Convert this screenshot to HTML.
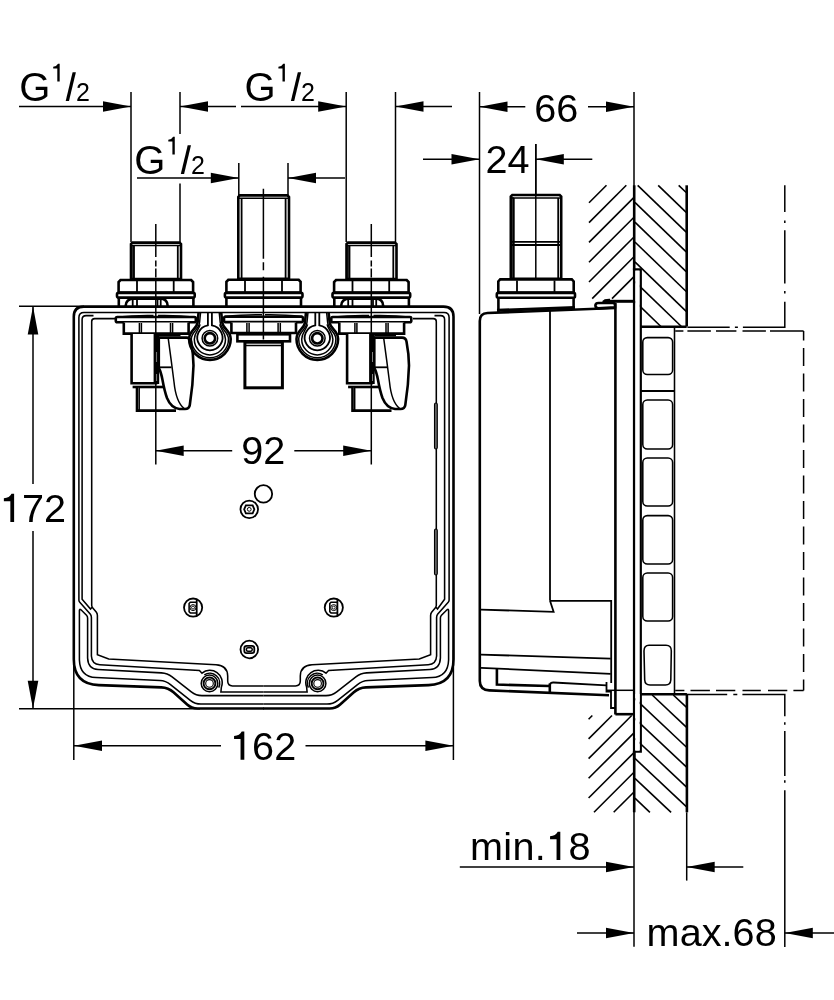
<!DOCTYPE html>
<html><head><meta charset="utf-8"><title>Dimension drawing</title>
<style>
html,body{margin:0;padding:0;background:#fff;}
body{width:834px;height:1000px;overflow:hidden;font-family:"Liberation Sans",sans-serif;}
svg{display:block;will-change:transform;}
.t{stroke:#000;stroke-width:1.5;fill:none;}
.m{stroke:#000;stroke-width:1.8;fill:none;}
.k{stroke:#000;stroke-width:2.6;fill:none;}
.kk{stroke:#000;stroke-width:3;fill:none;}
.w{stroke:#000;stroke-width:1.8;fill:#fff;}
.wk{stroke:#000;stroke-width:2.6;fill:#fff;}
.a{fill:#000;stroke:none;}
.b{stroke:#000;stroke-width:1.55;fill:none;}
.h{stroke:#000;stroke-width:1.6;fill:none;}
text{font-family:"Liberation Sans",sans-serif;fill:#000;}
</style></head><body>
<svg width="834" height="1000" viewBox="0 0 834 1000">
<rect x="0" y="0" width="834" height="1000" fill="#fff"/>
<line class="t" x1="19" y1="106.5" x2="131" y2="106.5" />
<polygon class="a" points="131,106.5 103,101.2 103,111.8"/>
<line class="t" x1="131" y1="92" x2="131" y2="242" />
<line class="t" x1="180" y1="92" x2="180" y2="134" />
<line class="t" x1="180" y1="183.5" x2="180" y2="242" />
<polygon class="a" points="180,106.5 208,101.2 208,111.8"/>
<line class="t" x1="180" y1="106.5" x2="236" y2="106.5" />
<line class="t" x1="241" y1="106.5" x2="346.2" y2="106.5" />
<polygon class="a" points="346.2,106.5 318.2,101.2 318.2,111.8"/>
<line class="t" x1="346.2" y1="92" x2="346.2" y2="242" />
<line class="t" x1="395.5" y1="92" x2="395.5" y2="242" />
<polygon class="a" points="395.5,106.5 423.5,101.2 423.5,111.8"/>
<line class="t" x1="395.5" y1="106.5" x2="452" y2="106.5" />
<line class="t" x1="137" y1="178" x2="238.8" y2="178" />
<polygon class="a" points="238.8,178 210.8,172.7 210.8,183.3"/>
<line class="t" x1="238.8" y1="163" x2="238.8" y2="196" />
<line class="t" x1="288" y1="163" x2="288" y2="196" />
<polygon class="a" points="288,178 316,172.7 316,183.3"/>
<line class="t" x1="288" y1="178" x2="345" y2="178" />
<text x="19.20" y="100.6" font-size="40">G</text>
<path class="a" d="M59.68,81.6 L57.30,81.6 L57.30,68.55 L53.20,68.55 L53.20,66.67 Q56.80,66.42 58.05,63.80 L59.68,63.80 Z"/>
<polygon class="a" points="65.7,101.1 69.0,101.1 75.9,72.19999999999999 72.6,72.19999999999999"/>
<text x="75.90" y="100.6" font-size="25">2</text>
<text x="244.40" y="100.6" font-size="40">G</text>
<path class="a" d="M284.88,81.6 L282.50,81.6 L282.50,68.55 L278.40,68.55 L278.40,66.67 Q282.00,66.42 283.25,63.80 L284.88,63.80 Z"/>
<polygon class="a" points="290.9,101.1 294.2,101.1 301.1,72.19999999999999 297.8,72.19999999999999"/>
<text x="301.10" y="100.6" font-size="25">2</text>
<text x="134.30" y="173.6" font-size="40">G</text>
<path class="a" d="M174.78,154.6 L172.40,154.6 L172.40,141.55 L168.30,141.55 L168.30,139.67 Q171.90,139.42 173.15,136.80 L174.78,136.80 Z"/>
<polygon class="a" points="180.8,174.1 184.1,174.1 191.0,145.2 187.7,145.2"/>
<text x="191.00" y="173.6" font-size="25">2</text>
<line class="t" x1="19" y1="306.3" x2="84" y2="306.3" />
<line class="t" x1="19" y1="708.7" x2="200" y2="708.7" />
<line class="t" x1="33" y1="307" x2="33" y2="484" />
<line class="t" x1="33" y1="531" x2="33" y2="708" />
<polygon class="a" points="33,306.5 27.7,334.5 38.3,334.5"/>
<polygon class="a" points="33,708.7 27.7,680.7 38.3,680.7"/>
<path class="a" d="M14.12,521.9 L10.35,521.9 L10.35,501.23 L3.86,501.23 L3.86,498.26 Q9.56,497.86 11.54,493.70 L14.12,493.70 Z"/>
<text x="21.92" y="521.9" font-size="39.6">7</text>
<text x="43.94" y="521.9" font-size="39.6">2</text>
<line class="t" x1="73.8" y1="650" x2="73.8" y2="760" />
<line class="t" x1="453.4" y1="650" x2="453.4" y2="760" />
<polygon class="a" points="74,745.7 102,740.4000000000001 102,751.0"/>
<line class="t" x1="74" y1="745.7" x2="221" y2="745.7" />
<line class="t" x1="305.5" y1="745.7" x2="453" y2="745.7" />
<polygon class="a" points="453.4,745.7 425.4,740.4000000000001 425.4,751.0"/>
<path class="a" d="M244.32,759.7 L240.55,759.7 L240.55,739.03 L234.06,739.03 L234.06,736.06 Q239.76,735.66 241.74,731.50 L244.32,731.50 Z"/>
<text x="252.12" y="759.7" font-size="39.6">6</text>
<text x="274.14" y="759.7" font-size="39.6">2</text>
<polygon class="a" points="155.7,450.8 183.7,445.5 183.7,456.1"/>
<line class="t" x1="155.7" y1="450.8" x2="232.2" y2="450.8" />
<line class="t" x1="294.3" y1="450.8" x2="371" y2="450.8" />
<polygon class="a" points="371.2,450.8 343.2,445.5 343.2,456.1"/>
<text x="241.30" y="464.1" font-size="39.6">9</text>
<text x="263.32" y="464.1" font-size="39.6">2</text>
<g>
<path class="k" d="M264.00,306.60 L83.80,306.60 Q73.80,306.60 73.80,316.60 L73.80,659.20 Q73.80,684.20 98.78,685.10 L161.30,687.35 Q168.30,687.60 173.51,692.27 L187.13,704.49 Q191.60,708.50 197.60,708.50 L264.00,708.50" />
</g>
<g transform="translate(527.3,0) scale(-1,1)">
<path class="k" d="M264.00,306.60 L83.80,306.60 Q73.80,306.60 73.80,316.60 L73.80,659.20 Q73.80,684.20 98.78,685.10 L161.30,687.35 Q168.30,687.60 173.51,692.27 L187.13,704.49 Q191.60,708.50 197.60,708.50 L264.00,708.50" />
</g>
<g>
<path class="b" d="M263.65,312.4 H84 Q78.9,312.4 78.9,317.4 V600.2 Q79,601.5 80,602.6 L90.4,614.2 Q91.4,615.5 91.4,617.5 V656 Q91.8,664.2 99.8,664.8 L199.4,670.4 L202,673.2 A12.3,12.3 0 0 1 221.4,687 L220.9,692 H263.65" />
<path class="b" d="M93.5,315.6 H86.1 Q82.1,315.6 82.1,319.6 V599.2 L90.5,609 L92,607.3" />
<path class="b" d="M115,318.6 H94.7 Q91.7,318.6 91.7,321.6 V605.5 Q91.9,607 93,608.3 L96.2,612 Q97.4,613.5 97.4,615.5 V654.6 L108.7,659 L216,664.8 Q227.5,665.5 227.7,676 V681 Q227.7,685.9 232.5,685.9 H263.65" />
<path class="b" d="M79.4,660 V610.5 Q79.4,608.6 81,609.8 L86.5,615.2 Q87.6,616.4 87.6,618 V658 Q88,669 98,669.5 L98.00,669.50 L161.41,672.88 Q167.40,673.20 172.12,676.90 L191.28,691.90 Q196.00,695.60 202.00,695.60 L263.65,695.60" />
<path class="b" d="M79.4,660 Q80,677 96,677.6 L96.00,677.60 L159.81,680.53 Q165.80,680.80 170.50,684.53 L190.30,700.27 Q195.00,704.00 201.00,704.00 L263.65,704.00" />
</g>
<g transform="translate(528,0) scale(-1,1)">
<path class="b" d="M264.35,312.4 H84 Q78.9,312.4 78.9,317.4 V600.2 Q79,601.5 80,602.6 L90.4,614.2 Q91.4,615.5 91.4,617.5 V656 Q91.8,664.2 99.8,664.8 L199.4,670.4 L202,673.2 A12.3,12.3 0 0 1 221.4,687 L220.9,692 H264.35" />
<path class="b" d="M93.5,315.6 H87.4 Q83.4,315.6 83.4,319.6 V599.2 L90.5,609 L92,607.3" />
<path class="b" d="M115,318.6 H94.7 Q91.7,318.6 91.7,321.6 V605.5 Q91.9,607 93,608.3 L96.2,612 Q97.4,613.5 97.4,615.5 V654.6 L108.7,659 L216,664.8 Q227.5,665.5 227.7,676 V681 Q227.7,685.9 232.5,685.9 H264.35" />
<path class="b" d="M79.4,660 V610.5 Q79.4,608.6 81,609.8 L86.5,615.2 Q87.6,616.4 87.6,618 V658 Q88,669 98,669.5 L98.00,669.50 L161.41,672.88 Q167.40,673.20 172.12,676.90 L191.28,691.90 Q196.00,695.60 202.00,695.60 L264.35,695.60" />
<path class="b" d="M79.4,660 Q80,677 96,677.6 L96.00,677.60 L159.81,680.53 Q165.80,680.80 170.50,684.53 L190.30,700.27 Q195.00,704.00 201.00,704.00 L264.35,704.00" />
</g>
<rect x="434.5" y="403" width="2.8" height="46" rx="1.4" fill="#666" stroke="#000" stroke-width="1.1"/>
<rect x="434.5" y="529" width="2.8" height="46" rx="1.4" fill="#666" stroke="#000" stroke-width="1.1"/>
<g transform="translate(0,0)">
<path class="wk" d="M132.5,242.6 H179.5 L181,244 V279 H131 V244 Z" />
<line class="t" x1="131.5" y1="245.6" x2="180.5" y2="245.6" />
<line class="m" x1="134" y1="245.6" x2="134" y2="279" />
<line class="m" x1="177.8" y1="245.6" x2="177.8" y2="279" />
<rect class="a" x="131" y="245" width="3" height="34" fill-opacity="0.75"/>
<path class="wk" d="M120.5,280 H191.2 L193.1,282 V292.6 H118.6 V282 Z" />
<line class="m" x1="137" y1="281" x2="137" y2="292" />
<line class="m" x1="173.7" y1="281" x2="173.7" y2="292" />
<rect class="wk" x="117" y="292.9" width="77.7" height="4.7" rx="1.5"/>
<line class="k" x1="118.8" y1="297.5" x2="118.8" y2="306" />
<line class="k" x1="193.4" y1="297.5" x2="193.4" y2="306" />
<path class="k" d="M125.6,306 Q126,298.8 134,298.8 H160 Q167.5,298.8 167.7,306" />
<line class="m" x1="132.7" y1="299" x2="132.7" y2="306" />
<line class="m" x1="137" y1="299" x2="137" y2="306" />
<line class="m" x1="157.5" y1="299" x2="157.5" y2="306" />
<line class="m" x1="160.7" y1="299" x2="160.7" y2="306" />
<path class="t" d="M116,317.2 Q135,315.2 153.5,315.6 M158,315.6 Q178,315.2 196,317.2" />
<rect class="wk" x="115.8" y="317" width="80" height="5.3" rx="1.5"/>
<path class="wk" d="M123.8,322.5 V333.6 H188.6 V322.5" />
<line class="t" x1="139.4" y1="323" x2="139.4" y2="333" />
<line class="t" x1="141.4" y1="323" x2="141.4" y2="333" />
<line class="t" x1="170.5" y1="323" x2="170.5" y2="333" />
<line class="t" x1="172.6" y1="323" x2="172.6" y2="333" />
<path class="wk" d="M131.6,334 V383.2 H156 V334" />
<rect class="a" x="153.6" y="334" width="5.6" height="50"/>
<line class="t" x1="156.3" y1="352" x2="156.3" y2="362" stroke="#fff" style="stroke:#fff"/>
<line class="t" x1="156.3" y1="374" x2="156.3" y2="381" stroke="#fff" style="stroke:#fff"/>
<line class="k" x1="132.6" y1="387" x2="164" y2="387" />
<path class="wk" d="M137,387 V410.6 H176" />
<line class="t" x1="139.2" y1="388" x2="139.2" y2="410" />
<path class="wk" d="M158.8,337.6 H186.5 Q190.3,337.6 191,341.5 Q193.4,354 193.5,365.5 Q193,385 189.8,405 Q189.2,409 185,409 H179.5 Q171,408 167,398 Q164.5,391 162.5,380 Q161,372 158.8,368 Z" />
<path class="t" d="M168.3,338.8 Q171.5,362 174,382 Q176,402 184,408.3" />
<line class="m" x1="159.5" y1="367.3" x2="171.5" y2="367.3" />
<line class="t" x1="159" y1="335.6" x2="180.5" y2="335.6" />
<line class="t" x1="155.8" y1="224" x2="155.8" y2="464.5" stroke-dasharray="33 3.5 6 2 9 2 300"/>
</g>
<g transform="translate(215.5,0)">
<path class="wk" d="M132.5,242.6 H179.5 L181,244 V279 H131 V244 Z" />
<line class="t" x1="131.5" y1="245.6" x2="180.5" y2="245.6" />
<line class="m" x1="134" y1="245.6" x2="134" y2="279" />
<line class="m" x1="177.8" y1="245.6" x2="177.8" y2="279" />
<rect class="a" x="131" y="245" width="3" height="34" fill-opacity="0.75"/>
<path class="wk" d="M120.5,280 H191.2 L193.1,282 V292.6 H118.6 V282 Z" />
<line class="m" x1="137" y1="281" x2="137" y2="292" />
<line class="m" x1="173.7" y1="281" x2="173.7" y2="292" />
<rect class="wk" x="117" y="292.9" width="77.7" height="4.7" rx="1.5"/>
<line class="k" x1="118.8" y1="297.5" x2="118.8" y2="306" />
<line class="k" x1="193.4" y1="297.5" x2="193.4" y2="306" />
<path class="k" d="M125.6,306 Q126,298.8 134,298.8 H160 Q167.5,298.8 167.7,306" />
<line class="m" x1="132.7" y1="299" x2="132.7" y2="306" />
<line class="m" x1="137" y1="299" x2="137" y2="306" />
<line class="m" x1="157.5" y1="299" x2="157.5" y2="306" />
<line class="m" x1="160.7" y1="299" x2="160.7" y2="306" />
<path class="t" d="M116,317.2 Q135,315.2 153.5,315.6 M158,315.6 Q178,315.2 196,317.2" />
<rect class="wk" x="115.8" y="317" width="80" height="5.3" rx="1.5"/>
<path class="wk" d="M123.8,322.5 V333.6 H188.6 V322.5" />
<line class="t" x1="139.4" y1="323" x2="139.4" y2="333" />
<line class="t" x1="141.4" y1="323" x2="141.4" y2="333" />
<line class="t" x1="170.5" y1="323" x2="170.5" y2="333" />
<line class="t" x1="172.6" y1="323" x2="172.6" y2="333" />
<path class="wk" d="M131.6,334 V383.2 H156 V334" />
<rect class="a" x="153.6" y="334" width="5.6" height="50"/>
<line class="t" x1="156.3" y1="352" x2="156.3" y2="362" stroke="#fff" style="stroke:#fff"/>
<line class="t" x1="156.3" y1="374" x2="156.3" y2="381" stroke="#fff" style="stroke:#fff"/>
<line class="k" x1="132.6" y1="387" x2="164" y2="387" />
<path class="wk" d="M137,387 V410.6 H176" />
<line class="t" x1="139.2" y1="388" x2="139.2" y2="410" />
<path class="wk" d="M158.8,337.6 H186.5 Q190.3,337.6 191,341.5 Q193.4,354 193.5,365.5 Q193,385 189.8,405 Q189.2,409 185,409 H179.5 Q171,408 167,398 Q164.5,391 162.5,380 Q161,372 158.8,368 Z" />
<path class="t" d="M168.3,338.8 Q171.5,362 174,382 Q176,402 184,408.3" />
<line class="m" x1="159.5" y1="367.3" x2="171.5" y2="367.3" />
<line class="t" x1="159" y1="335.6" x2="180.5" y2="335.6" />
<line class="t" x1="155.8" y1="224" x2="155.8" y2="464.5" stroke-dasharray="33 3.5 6 2 9 2 300"/>
</g>
<path class="wk" d="M239.8,195.4 H287.5 L289,197 V278.8 H238.3 V197 Z" />
<line class="t" x1="239" y1="198.2" x2="288.4" y2="198.2" />
<line class="m" x1="241.6" y1="198.2" x2="241.6" y2="278.8" />
<line class="m" x1="285.6" y1="198.2" x2="285.6" y2="278.8" />
<path class="wk" d="M228.3,279.8 H298.7 L300.6,281.8 V292.5 H226.4 V281.8 Z" />
<line class="m" x1="245" y1="281" x2="245" y2="292" />
<line class="m" x1="282" y1="281" x2="282" y2="292" />
<rect class="wk" x="224.9" y="292.9" width="77.6" height="4.7" rx="1.5"/>
<line class="k" x1="226.4" y1="297.5" x2="226.4" y2="306" />
<line class="k" x1="301" y1="297.5" x2="301" y2="306" />
<path class="t" d="M224.5,316.2 Q245,314.4 262,314.7 M265,314.7 Q283,314.4 302.5,316.2" />
<rect class="wk" x="224" y="316.8" width="79" height="5.3" rx="1.5"/>
<path class="wk" d="M231.4,322.5 V333 H296 V322.5" />
<line class="t" x1="246.9" y1="323" x2="246.9" y2="332.5" />
<line class="t" x1="249.1" y1="323" x2="249.1" y2="332.5" />
<line class="t" x1="278.1" y1="323" x2="278.1" y2="332.5" />
<line class="t" x1="280.3" y1="323" x2="280.3" y2="332.5" />
<rect class="wk" x="237.4" y="334.3" width="52.6" height="7" rx="0"/>
<rect class="kk" x="244.9" y="342.2" width="37.5" height="45.6" rx="0"/>
<line class="t" x1="245" y1="345.6" x2="282.5" y2="345.6" />
<line class="t" x1="263.4" y1="188.7" x2="263.4" y2="339.6" stroke-dasharray="70 3.5 8 6.5 70"/>
<g transform="translate(209.9,338.3)">
<path class="k" d="M-11.3,-26 L-12.3,-16 C-13,-9 -20.8,-8 -20.8,0.8 A20.8,20.8 0 0 0 20.8,0.8 C20.8,-8 13,-9 12.3,-16 L11.3,-26" />
<path class="t" d="M-9.3,-26 L-10.3,-16 C-11,-8 -18.6,-7 -18.6,0.8 A18.6,18.6 0 0 0 18.6,0.8 C18.6,-7 11,-8 10.3,-16 L9.3,-26" />
<path class="t" d="M-9.8,-14 C-11,-8 -15.6,-6 -15.6,1 A15.6,15.6 0 0 0 15.6,1 C15.6,-6 11,-8 9.8,-14" />
<path class="m" d="M-2,-26 V-13 A12.6,12.6 0 1 0 2,-13 V-26" />
<circle class="t" cx="0" cy="0" r="7.8"/>
<circle class="k" cx="0" cy="0" r="5.2"/>
</g>
<g transform="translate(317.3,338.3)">
<path class="k" d="M-11.3,-26 L-12.3,-16 C-13,-9 -20.8,-8 -20.8,0.8 A20.8,20.8 0 0 0 20.8,0.8 C20.8,-8 13,-9 12.3,-16 L11.3,-26" />
<path class="t" d="M-9.3,-26 L-10.3,-16 C-11,-8 -18.6,-7 -18.6,0.8 A18.6,18.6 0 0 0 18.6,0.8 C18.6,-7 11,-8 10.3,-16 L9.3,-26" />
<path class="t" d="M-9.8,-14 C-11,-8 -15.6,-6 -15.6,1 A15.6,15.6 0 0 0 15.6,1 C15.6,-6 11,-8 9.8,-14" />
<path class="m" d="M-2,-26 V-13 A12.6,12.6 0 1 0 2,-13 V-26" />
<circle class="t" cx="0" cy="0" r="7.8"/>
<circle class="k" cx="0" cy="0" r="5.2"/>
</g>
<circle class="m" cx="193.1" cy="607.6" r="9.1"/>
<line class="m" x1="196.7" y1="599.0" x2="196.7" y2="616.2" />
<path class="b" d="M196.7,602.3000000000001 H190.29999999999998 L189.1,603.5 V611.7 L190.29999999999998,612.9 H196.7" />
<circle cx="193.0" cy="607.6" r="3" fill="none" stroke="#000" stroke-width="1"/>
<circle cx="193.0" cy="607.6" r="1.5" fill="none" stroke="#000" stroke-width="0.9"/>
<circle class="m" cx="333.8" cy="607.6" r="9.1"/>
<line class="m" x1="337.40000000000003" y1="599.0" x2="337.40000000000003" y2="616.2" />
<path class="b" d="M337.40000000000003,602.3000000000001 H331.0 L329.8,603.5 V611.7 L331.0,612.9 H337.40000000000003" />
<circle cx="333.7" cy="607.6" r="3" fill="none" stroke="#000" stroke-width="1"/>
<circle cx="333.7" cy="607.6" r="1.5" fill="none" stroke="#000" stroke-width="0.9"/>
<circle class="m" cx="249.3" cy="649.5" r="8.8"/>
<rect class="m" x="244.3" y="645.9" width="10" height="7.2" rx="2.4"/>
<rect class="t" x="246.4" y="647.8" width="5.8" height="3.4" rx="1.5"/>
<circle class="m" cx="249.25" cy="509.35" r="8.8"/>
<path class="m" d="M244.15,509.35 L245.85,505.35 H252.65 L254.35,509.35 L252.65,513.35 H245.85 Z" />
<circle cx="249.25" cy="509.35" r="1.9" fill="none" stroke="#000" stroke-width="1"/>
<circle class="m" cx="263.45" cy="493.9" r="8.7"/>
<circle class="t" cx="209.5" cy="683.4" r="8.3"/>
<circle cx="209.5" cy="683.4" r="5.9" fill="none" stroke="#000" stroke-width="1.9"/>
<circle cx="209.5" cy="683.4" r="3.8" fill="none" stroke="#000" stroke-width="1.1"/>
<path class="t" d="M204.3,674.8 A10,10 0 0 1 218.7,687.6" />
<circle class="t" cx="317.6" cy="683.4" r="8.3"/>
<circle cx="317.6" cy="683.4" r="5.9" fill="none" stroke="#000" stroke-width="1.9"/>
<circle cx="317.6" cy="683.4" r="3.8" fill="none" stroke="#000" stroke-width="1.1"/>
<path class="t" d="M322.8,674.8 A10,10 0 0 0 308.40000000000003,687.6" />
<line class="t" x1="479.5" y1="92" x2="479.5" y2="314" />
<line class="t" x1="634" y1="92" x2="634" y2="270" />
<polygon class="a" points="479.5,106.8 507.5,101.5 507.5,112.1"/>
<line class="t" x1="479.5" y1="106.8" x2="525.3" y2="106.8" />
<line class="t" x1="588" y1="106.8" x2="634" y2="106.8" />
<polygon class="a" points="634,106.8 606,101.5 606,112.1"/>
<text x="534.30" y="121.7" font-size="39.6">6</text>
<text x="556.32" y="121.7" font-size="39.6">6</text>
<line class="t" x1="423" y1="159.2" x2="479.5" y2="159.2" />
<polygon class="a" points="479.5,159.2 451.5,153.89999999999998 451.5,164.5"/>
<text x="485.60" y="172.7" font-size="39.6">2</text>
<text x="507.62" y="172.7" font-size="39.6">4</text>
<line class="t" x1="535.8" y1="144" x2="535.8" y2="280" />
<polygon class="a" points="535.8,159.2 563.8,153.89999999999998 563.8,164.5"/>
<line class="t" x1="535.8" y1="159.2" x2="592.3" y2="159.2" />
<path class="wk" d="M512.3,195 H559.7 L561.2,196.5 V278.8 H510.8 V196.5 Z" />
<line class="t" x1="511.5" y1="198" x2="560.5" y2="198" />
<line class="m" x1="513.8" y1="198" x2="513.8" y2="278.8" />
<line class="m" x1="558.2" y1="198" x2="558.2" y2="278.8" />
<rect class="a" x="510.8" y="197" width="3" height="81.8" fill-opacity="0.8"/>
<line class="m" x1="511" y1="241.8" x2="561" y2="241.8" />
<line class="m" x1="511" y1="245" x2="561" y2="245" />
<path class="wk" d="M500.2,279.4 H571.8 L573.7,281.4 V292.5 H498.3 V281.4 Z" />
<line class="m" x1="517" y1="280.5" x2="517" y2="292" />
<line class="m" x1="554.5" y1="280.5" x2="554.5" y2="292" />
<rect class="wk" x="496.8" y="292.9" width="78.2" height="4.8" rx="1.5"/>
<line class="k" x1="498.4" y1="297.7" x2="498.4" y2="312" />
<line class="k" x1="573.6" y1="297.7" x2="573.6" y2="309" />
<path class="kk" d="M497,310.3 L575,307.4" />
<line class="t" x1="535.8" y1="144" x2="535.8" y2="280" />
<path class="k" d="M615.4,308 L487.5,313 Q479.8,313.3 479.8,321 V681 Q479.8,690 489.3,690.4 L609,695.2" />
<line class="k" x1="615.4" y1="303" x2="615.4" y2="714.4" />
<line class="m" x1="550" y1="311" x2="550" y2="600.8" />
<path class="m" d="M550,600.8 H611.2 V683" />
<path class="m" d="M550,600.8 L553.6,611.8 L481,609.6" />
<line class="m" x1="481" y1="654.6" x2="610.7" y2="658.7" />
<path class="m" d="M481,667.8 L610.7,673.8" />
<path class="k" d="M496.9,668.6 V684.6 L549,686" />
<line class="k" x1="549.8" y1="683.5" x2="549.8" y2="692.6" />
<path class="m" d="M550,684.5 Q550.5,682.4 553.5,682.5 L606.5,685.3" />
<line class="kk" x1="604" y1="301.3" x2="634" y2="301.3" />
<path class="k" d="M603,302 Q605,299.8 610,300" />
<path class="wk" d="M598.5,303 H613 Q615,303 615,305 V307.2 L598.5,308.4 Q595.4,308.2 595.4,305.6 Q595.4,303 598.5,303 Z" />
<path class="k" d="M615.4,714.2 H634" />
<path class="m" d="M606.5,682 V691.5 H611 V708 H615.4" />
<line class="t" x1="606.6" y1="690.3" x2="634" y2="690.3" />
<path class="k" d="M634.2,760 V269.5 H640.6 V751.4 H634.2" />
<line class="h" x1="589" y1="202.8" x2="606.5" y2="185.3" />
<line class="h" x1="589" y1="222.6" x2="626.3" y2="185.3" />
<line class="h" x1="589" y1="242.4" x2="633.5" y2="197.9" />
<line class="h" x1="589" y1="262.2" x2="633.5" y2="217.7" />
<line class="h" x1="589" y1="282.0" x2="633.5" y2="237.5" />
<line class="h" x1="592.2" y1="298.6" x2="633.5" y2="257.3" />
<line class="h" x1="612.0" y1="298.6" x2="633.5" y2="277.1" />
<line class="h" x1="678.7" y1="185.3" x2="686.2" y2="192.5" />
<line class="h" x1="658.2" y1="185.3" x2="686.2" y2="212.3" />
<line class="h" x1="637.7" y1="185.3" x2="686.2" y2="232.1" />
<line class="h" x1="634.9" y1="202.4" x2="686.2" y2="251.9" />
<line class="h" x1="634.9" y1="222.2" x2="686.2" y2="271.7" />
<line class="h" x1="634.9" y1="242.0" x2="686.2" y2="291.5" />
<line class="h" x1="634.9" y1="261.8" x2="686.2" y2="311.3" />
<line class="h" x1="634.9" y1="281.6" x2="681.4" y2="326.5" />
<line class="h" x1="634.9" y1="301.4" x2="660.9" y2="326.5" />
<rect x="635.3" y="270.6" width="4.3" height="480" fill="#fff"/>
<line class="k" x1="686.7" y1="185.3" x2="686.7" y2="326.5" />
<line class="k" x1="634.2" y1="185.3" x2="634.2" y2="270" />
<line class="k" x1="641" y1="326.8" x2="686.7" y2="326.8" />
<line class="h" x1="588.6" y1="719.2" x2="592.3" y2="715.5" />
<line class="h" x1="588.6" y1="738.9" x2="612.0" y2="715.5" />
<line class="h" x1="588.6" y1="758.6" x2="631.7" y2="715.5" />
<line class="h" x1="588.6" y1="778.3" x2="633.5" y2="733.4" />
<line class="h" x1="588.6" y1="798.0" x2="633.5" y2="753.1" />
<line class="h" x1="594.0" y1="812.3" x2="633.5" y2="772.8" />
<line class="h" x1="613.7" y1="812.3" x2="633.5" y2="792.5" />
<line class="h" x1="633.4" y1="812.3" x2="633.5" y2="812.2" />
<line class="h" x1="673.3" y1="695" x2="686.3" y2="707.2" />
<line class="h" x1="652.2" y1="695" x2="686.3" y2="727.1" />
<line class="h" x1="634.9" y1="698.7" x2="686.3" y2="747.0" />
<line class="h" x1="634.9" y1="718.6" x2="686.3" y2="766.9" />
<line class="h" x1="634.9" y1="738.5" x2="686.3" y2="786.8" />
<line class="h" x1="634.9" y1="758.4" x2="686.3" y2="806.7" />
<line class="h" x1="634.9" y1="778.3" x2="671.1" y2="812.3" />
<line class="h" x1="634.9" y1="798.2" x2="649.9" y2="812.3" />
<rect x="635.3" y="694" width="4.3" height="56.5" fill="#fff"/>
<line class="k" x1="686.9" y1="693.8" x2="686.9" y2="812.3" />
<line class="k" x1="641" y1="694.2" x2="686.9" y2="694.2" />
<line class="b" x1="674.5" y1="327" x2="674.5" y2="694" />
<rect class="b" x="642.8" y="337.6" width="29.8" height="36.799999999999955" rx="4.5"/>
<rect class="b" x="642.8" y="400" width="29.8" height="49" rx="4.5"/>
<rect class="b" x="642.8" y="458" width="29.8" height="48" rx="4.5"/>
<rect class="b" x="642.8" y="515.6" width="29.8" height="48.39999999999998" rx="4.5"/>
<rect class="b" x="642.8" y="573" width="29.8" height="48" rx="4.5"/>
<path class="b" d="M649,645.2 H666 Q671.5,645.2 671.3,651 L670.8,680 Q670.5,685 665.5,685 H650 Q645,685 644.7,680 L644,651 Q644,645.2 649,645.2 Z" />
<line class="m" x1="641" y1="391" x2="674.5" y2="391" />
<path class="t" d="M675.2,331 H803.6" stroke-dasharray="8.2 4 23.5 5.1 20.4 6.1 23.4 4.1 33.6"/>
<path class="t" d="M803.6,331 V690.4" stroke-dasharray="18 7.5" stroke-dashoffset="8.5"/>
<path class="t" d="M675.2,690.5 H803.6" stroke-dasharray="9.2 6.1 19.4 6.1 19.3 7.2 18.3 7.2 19.3 6.1 10.2"/>
<path class="t" d="M784.8,185.3 V327.3 H687.4" stroke-dasharray="26.7 8.5 2.5 7.2 53.3 7.6 2.5 8.1 67.5 5 3 5.2 50"/>
<path class="t" d="M687.4,694.5 H784.8 V947" stroke-dasharray="39.8 6.1 4 5.1 64.2 6 2.5 6.1 45 4.4 2.5 7.5 170"/>
<line class="t" x1="634" y1="812" x2="634" y2="946.7" />
<line class="t" x1="686.7" y1="812.3" x2="686.7" y2="880.6" />
<line class="k" x1="634.2" y1="751" x2="634.2" y2="812.3" />
<line class="t" x1="459.8" y1="867" x2="634" y2="867" />
<polygon class="a" points="634,867 606,861.7 606,872.3"/>
<polygon class="a" points="686.7,867 714.7,861.7 714.7,872.3"/>
<line class="t" x1="686.7" y1="867" x2="743.3" y2="867" />
<text x="469.90" y="859.9" font-size="39.6">m</text>
<text x="503.24" y="859.9" font-size="39.6">i</text>
<text x="512.38" y="859.9" font-size="39.6">n</text>
<text x="534.75" y="859.9" font-size="39.6">.</text>
<path class="a" d="M560.32,859.9 L556.56,859.9 L556.56,839.23 L550.06,839.23 L550.06,836.26 Q555.77,835.86 557.75,831.70 L560.32,831.70 Z"/>
<text x="568.47" y="859.9" font-size="39.6">8</text>
<line class="t" x1="577" y1="933" x2="634" y2="933" />
<polygon class="a" points="634,933 606,927.7 606,938.3"/>
<polygon class="a" points="784.8,933 812.8,927.7 812.8,938.3"/>
<line class="t" x1="784.8" y1="933" x2="834" y2="933" />
<text x="646.60" y="945.6" font-size="39.6">m</text>
<text x="679.64" y="945.6" font-size="39.6">a</text>
<text x="701.70" y="945.6" font-size="39.6">x</text>
<text x="721.55" y="945.6" font-size="39.6">.</text>
<text x="732.61" y="945.6" font-size="39.6">6</text>
<text x="754.68" y="945.6" font-size="39.6">8</text>
</svg>
</body></html>
